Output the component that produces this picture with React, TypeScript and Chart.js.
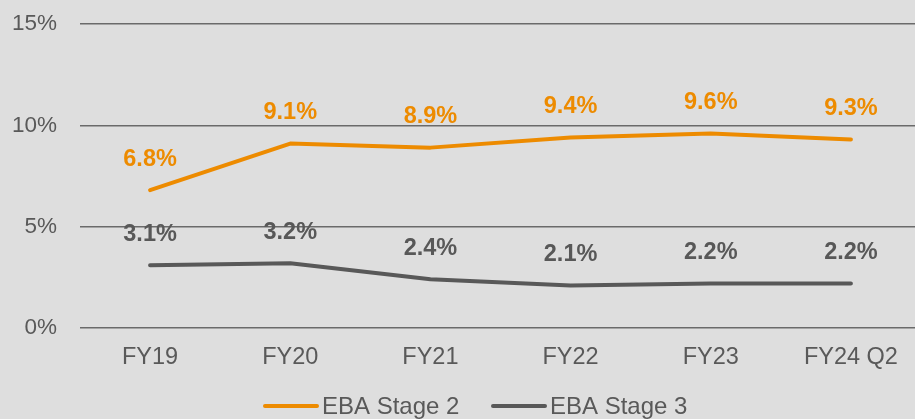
import React, { useEffect, useRef } from "react";
import { Chart, registerables } from "chart.js";

Chart.register(...registerables);

const categories = ["FY19", "FY20", "FY21", "FY22", "FY23", "FY24 Q2"];
const stage2 = [6.8, 9.1, 8.9, 9.4, 9.6, 9.3];
const stage3 = [3.1, 3.2, 2.4, 2.1, 2.2, 2.2];
const seriesNames = ["EBA Stage 2", "EBA Stage 3"];
const yTicks = [0, 5, 10, 15];

const ORANGE = "#ED8B00";
const GREY = "#585858";
const TEXT = "#595959";
const FONT = "'Liberation Sans', Arial, sans-serif";

const labelPlugin = {
  id: "valueLabels",
  afterDatasetsDraw(chart: any) {
    const ctx = chart.ctx;
    ctx.save();
    ctx.font = `bold 23.5px ${FONT}`;
    ctx.textAlign = "center";
    ctx.textBaseline = "middle";
    chart.data.datasets.forEach((ds: any, i: number) => {
      const meta = chart.getDatasetMeta(i);
      ctx.fillStyle = ds.borderColor;
      meta.data.forEach((pt: any, j: number) => {
        ctx.fillText(ds.data[j].toFixed(1) + "%", pt.x, pt.y - 31);
      });
    });
    ctx.restore();
  },
};

const legendPlugin = {
  id: "customLegend",
  afterDraw(chart: any) {
    const ctx = chart.ctx;
    ctx.save();
    ctx.font = `24px ${FONT}`;
    ctx.textBaseline = "middle";
    ctx.textAlign = "left";
    const y = 406;
    const starts = [263, 491];
    chart.data.datasets.forEach((ds: any, i: number) => {
      const x = starts[i];
      ctx.strokeStyle = ds.borderColor;
      ctx.lineWidth = 4;
      ctx.lineCap = "round";
      ctx.beginPath();
      ctx.moveTo(x + 2, y);
      ctx.lineTo(x + 54, y);
      ctx.stroke();
      ctx.fillStyle = TEXT;
      ctx.fillText(ds.label, x + 59, y + 1);
    });
    ctx.restore();
  },
};

const bgPlugin = {
  id: "bg",
  beforeDraw(chart: any) {
    const ctx = chart.ctx;
    ctx.save();
    ctx.fillStyle = "#DEDEDE";
    ctx.fillRect(0, 0, chart.width, chart.height);
    ctx.restore();
  },
};

export default function App() {
  const ref = useRef<HTMLCanvasElement>(null);
  useEffect(() => {
    document.body.style.margin = "0";
    document.body.style.overflow = "hidden";
    const chart = new Chart(ref.current!, {
      type: "line",
      data: {
        labels: categories,
        datasets: [
          {
            label: seriesNames[0],
            data: stage2,
            borderColor: ORANGE,
            backgroundColor: ORANGE,
            borderWidth: 4,
            pointRadius: 0,
            borderCapStyle: "round",
            borderJoinStyle: "round",
            tension: 0,
          },
          {
            label: seriesNames[1],
            data: stage3,
            borderColor: GREY,
            backgroundColor: GREY,
            borderWidth: 4,
            pointRadius: 0,
            borderCapStyle: "round",
            borderJoinStyle: "round",
            tension: 0,
          },
        ],
      },
      options: {
        animation: false,
        responsive: false,
        layout: { padding: { top: 24, right: 4, bottom: 41, left: 0 } },
        plugins: {
          legend: { display: false },
          tooltip: { enabled: false },
        },
        scales: {
          x: {
            offset: true,
            grid: { display: false, drawTicks: false },
            border: { display: false },
            ticks: {
              color: TEXT,
              font: { family: FONT, size: 23.5 },
              padding: 15,
              maxRotation: 0,
              autoSkip: false,
            },
            afterFit(scale: any) {
              scale.height = 50;
            },
          },
          y: {
            min: 0,
            max: 15,
            afterBuildTicks(scale: any) {
              scale.ticks = yTicks.map((v) => ({ value: v }));
            },
            grid: { color: "#6A6A6A", lineWidth: 1.5, drawTicks: false },
            border: { display: false },
            ticks: {
              color: TEXT,
              font: { family: FONT, size: 22.5 },
              padding: 23,
              callback: (v: any) => v + "%",
            },
            afterFit(scale: any) {
              scale.width = 80;
              scale.paddingTop = 0;
              scale.paddingBottom = 0;
            },
          },
        },
      },
      plugins: [bgPlugin, labelPlugin, legendPlugin],
    });
    return () => chart.destroy();
  }, []);
  return (
    <div style={{ width: 915, height: 419, overflow: "hidden", background: "#DEDEDE" }}>
      <canvas ref={ref} width={925} height={419} style={{ display: "block" }} />
    </div>
  );
}
